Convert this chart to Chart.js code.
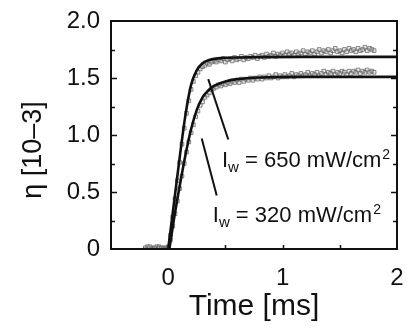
<!DOCTYPE html>
<html>
<head>
<meta charset="utf-8">
<script src="https://cdn.jsdelivr.net/npm/chart.js@4"></script>
<style>
  body { margin: 0; background: #fff; }
</style>
</head>
<body>
<canvas id="chart1" width="407" height="328"></canvas>
<script>
// measured data, sampled every 0.02 ms
const times = [
  -0.20,-0.18,-0.16,-0.14,-0.12,-0.10,-0.08,-0.06,-0.04,-0.02,0.00,
  0.02,0.04,0.06,0.08,0.10,0.12,0.14,0.16,0.18,0.20,
  0.22,0.24,0.26,0.28,0.30,0.32,0.34,0.36,0.38,0.40,
  0.42,0.44,0.46,0.48,0.50,0.52,0.54,0.56,0.58,0.60,
  0.62,0.64,0.66,0.68,0.70,0.72,0.74,0.76,0.78,0.80,
  0.82,0.84,0.86,0.88,0.90,0.92,0.94,0.96,0.98,1.00,
  1.02,1.04,1.06,1.08,1.10,1.12,1.14,1.16,1.18,1.20,
  1.22,1.24,1.26,1.28,1.30,1.32,1.34,1.36,1.38,1.40,
  1.42,1.44,1.46,1.48,1.50,1.52,1.54,1.56,1.58,1.60,
  1.62,1.64,1.66,1.68,1.70,1.72,1.74,1.76,1.78,1.80
];
const eta650 = [
  0.01,-0.01,0.02,0.00,0.01,-0.01,0.02,0.01,0.00,0.01,0.02,
  0.12,0.28,0.44,0.60,0.76,0.92,1.06,1.19,1.30,1.40,
  1.47,1.52,1.55,1.58,1.60,1.61,1.63,1.62,1.64,1.65,
  1.64,1.66,1.65,1.67,1.64,1.66,1.67,1.65,1.68,1.66,
  1.67,1.69,1.66,1.68,1.67,1.69,1.68,1.70,1.67,1.69,
  1.70,1.68,1.71,1.69,1.70,1.72,1.69,1.71,1.70,1.72,
  1.70,1.73,1.71,1.72,1.70,1.73,1.71,1.72,1.74,1.71,
  1.73,1.72,1.74,1.71,1.73,1.75,1.72,1.74,1.73,1.75,
  1.72,1.74,1.76,1.73,1.74,1.72,1.75,1.73,1.76,1.74,
  1.75,1.73,1.76,1.74,1.75,1.77,1.74,1.76,1.75,1.74
];
const eta320 = [
  0.00,0.02,-0.01,0.01,0.00,0.02,0.01,-0.01,0.01,0.00,0.01,
  0.08,0.20,0.31,0.42,0.53,0.64,0.75,0.85,0.94,1.02,
  1.09,1.16,1.21,1.26,1.29,1.33,1.35,1.37,1.40,1.41,
  1.42,1.44,1.43,1.45,1.44,1.46,1.45,1.47,1.46,1.48,
  1.46,1.49,1.47,1.49,1.48,1.50,1.48,1.50,1.49,1.51,
  1.49,1.51,1.50,1.52,1.50,1.51,1.53,1.50,1.52,1.51,
  1.53,1.51,1.52,1.54,1.51,1.53,1.52,1.54,1.52,1.53,
  1.55,1.52,1.54,1.53,1.55,1.52,1.54,1.56,1.53,1.55,
  1.54,1.56,1.53,1.55,1.54,1.56,1.55,1.53,1.56,1.54,
  1.56,1.55,1.57,1.54,1.56,1.55,1.57,1.55,1.56,1.55
];

// fitted curves
const fitT650 = [0, 0.05, 0.10, 0.15, 0.20, 0.25, 0.30, 0.35, 0.40, 0.50, 0.60, 0.80, 1.20, 2.00];
const fit650  = [0, 0.40, 0.80, 1.17, 1.44, 1.57, 1.63, 1.655, 1.668, 1.677, 1.68, 1.683, 1.685, 1.685];
const fitT320 = [0.01, 0.05, 0.10, 0.15, 0.20, 0.25, 0.30, 0.35, 0.40, 0.50, 0.60, 0.80, 1.20, 2.00];
const fit320  = [0, 0.26, 0.55, 0.82, 1.05, 1.22, 1.33, 1.39, 1.43, 1.47, 1.49, 1.505, 1.51, 1.51];

const xTickLabels = ['0', '1', '2'];
const yTickLabels = ['0', '0.5', '1.0', '1.5', '2.0'];

// annotations (data coordinates)
const notes = [
  { power: '650', at: [0.47, 0.72], leader: [[0.35, 1.49], [0.525, 0.96]] },
  { power: '320', at: [0.39, 0.24], leader: [[0.293, 0.97], [0.424, 0.47]] }
];

const fontFam = '"Liberation Sans", Arial, Helvetica, sans-serif';

const pts = (xs, ys) => xs.map((x, i) => ({ x: x, y: ys[i] }));

const frame = {
  id: 'frame',
  afterDatasetsDraw(chart) {
    const c = chart.ctx, a = chart.chartArea;
    const xs = chart.scales.x, ys = chart.scales.y;
    c.save();
    c.strokeStyle = '#111';
    c.lineWidth = 2;
    c.strokeRect(a.left, a.top, a.right - a.left, a.bottom - a.top);
    c.lineWidth = 1.5;
    c.beginPath();
    xs.ticks.forEach(t => {
      if (t.value <= xs.min || t.value >= xs.max) return;
      const px = Math.round(xs.getPixelForValue(t.value)) + 0.5;
      c.moveTo(px, a.bottom); c.lineTo(px, a.bottom - 4);
    });
    ys.ticks.forEach(t => {
      if (t.value <= ys.min || t.value >= ys.max) return;
      const py = Math.round(ys.getPixelForValue(t.value)) + 0.5;
      const len = t.label ? 6 : 4;
      c.moveTo(a.left, py); c.lineTo(a.left + len, py);
      c.moveTo(a.right, py); c.lineTo(a.right - len, py);
    });
    c.stroke();

    // leader lines and labels
    c.lineWidth = 2;
    c.fillStyle = '#111';
    notes.forEach(n => {
      c.beginPath();
      c.moveTo(xs.getPixelForValue(n.leader[0][0]), ys.getPixelForValue(n.leader[0][1]));
      c.lineTo(xs.getPixelForValue(n.leader[1][0]), ys.getPixelForValue(n.leader[1][1]));
      c.stroke();
      let x = xs.getPixelForValue(n.at[0]);
      const y = ys.getPixelForValue(n.at[1]);
      c.textBaseline = 'alphabetic';
      c.textAlign = 'left';
      c.font = '22px ' + fontFam;
      c.fillText('I', x, y); x += c.measureText('I').width;
      c.font = '15px ' + fontFam;
      c.fillText('w', x, y + 5); x += c.measureText('w').width;
      c.font = '22px ' + fontFam;
      const main = ' = ' + n.power + ' mW/cm';
      c.fillText(main, x, y); x += c.measureText(main).width;
      c.font = '14px ' + fontFam;
      c.fillText('2', x + 1, y - 8);
    });
    c.restore();
  }
};

const dotStyle = { pointStyle: 'rect', pointRadius: 2.6, borderWidth: 1, borderColor: 'rgba(90,90,90,0.7)', backgroundColor: 'rgba(190,190,190,0.35)', order: 1 };

const ctx = document.getElementById('chart1');
new Chart(ctx, {
  type: 'scatter',
  data: {
    datasets: [
      { data: pts(fitT650, fit650), showLine: true, pointRadius: 0, borderColor: '#111', borderWidth: 2.6, cubicInterpolationMode: 'monotone', order: 0 },
      { data: pts(fitT320, fit320), showLine: true, pointRadius: 0, borderColor: '#111', borderWidth: 2.6, cubicInterpolationMode: 'monotone', order: 0 },
      Object.assign({ data: pts(times, eta650) }, dotStyle),
      Object.assign({ data: pts(times, eta320) }, dotStyle)
    ]
  },
  options: {
    responsive: false,
    animation: false,
    layout: { padding: { top: 21, right: 10, left: 0, bottom: 0 } },
    plugins: { legend: { display: false }, tooltip: { enabled: false } },
    scales: {
      x: {
        type: 'linear', min: -0.5, max: 2,
        afterFit: s => { s.height = 79; s.paddingLeft = 0; s.paddingRight = 0; },
        grid: { display: false, drawTicks: false },
        border: { display: false },
        ticks: {
          stepSize: 0.5, padding: 15, color: '#111', maxRotation: 0, autoSkip: false,
          font: { family: fontFam, size: 24 },
          callback: v => xTickLabels.includes(String(v)) ? String(v) : ''
        },
        title: { display: true, text: 'Time [ms]', color: '#111', padding: { top: 0, bottom: 3 }, font: { family: fontFam, size: 30 } }
      },
      y: {
        min: 0, max: 2,
        afterFit: s => { s.width = 111; s.paddingTop = 0; s.paddingBottom = 0; },
        grid: { display: false, drawTicks: false },
        border: { display: false },
        ticks: {
          stepSize: 0.25, padding: 11, color: '#111', autoSkip: false,
          font: { family: fontFam, size: 24 },
          callback: v => {
            const s = v === 0 ? '0' : v.toFixed(1);
            return yTickLabels.includes(s) && v * 2 === Math.round(v * 2) ? s : '';
          }
        },
        title: { display: true, text: 'η [10–3]\u00A0\u00A0\u00A0\u00A0', color: '#111', padding: { top: 17, bottom: 0 }, font: { family: fontFam, size: 27 } }
      }
    }
  },
  plugins: [frame]
});
</script>
</body>
</html>
